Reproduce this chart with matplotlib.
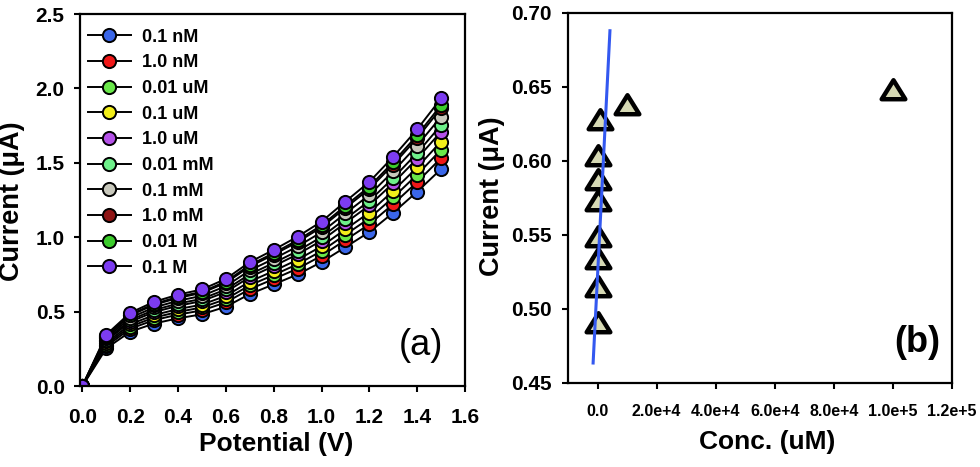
import matplotlib
matplotlib.use("Agg")
import matplotlib.pyplot as plt
from matplotlib.path import Path

plt.rcParams['font.family'] = ['Liberation Sans', 'DejaVu Sans']

# ---------------- Panel (a) data ----------------
potential = [0.0, 0.1, 0.2, 0.3, 0.4, 0.5, 0.6, 0.7, 0.8, 0.9, 1.0, 1.1, 1.2, 1.3, 1.4, 1.5]
labels_a = ['0.1 nM', '1.0 nM', '0.01 uM', '0.1 uM', '1.0 uM',
            '0.01 mM', '0.1 mM', '1.0 mM', '0.01 M', '0.1 M']
colors_a = ['#3a66e8', '#f01818', '#6ae84a', '#f2ee1a', '#b552e8',
            '#6ef08a', '#c8c8bc', '#8e1414', '#3ccc2c', '#7c3cf0']

cur_01nM = [0, 0.253, 0.365, 0.420, 0.455, 0.482, 0.533, 0.618, 0.683, 0.750, 0.833, 0.933, 1.035, 1.165, 1.306, 1.458]
cur_1nM = [0, 0.267, 0.385, 0.443, 0.480, 0.508, 0.562, 0.651, 0.719, 0.789, 0.875, 0.981, 1.087, 1.223, 1.371, 1.532]
cur_001uM = [0, 0.278, 0.400, 0.460, 0.498, 0.528, 0.584, 0.677, 0.746, 0.819, 0.907, 1.017, 1.127, 1.268, 1.420, 1.588]
cur_01uM = [0, 0.289, 0.415, 0.477, 0.517, 0.547, 0.606, 0.702, 0.773, 0.849, 0.939, 1.053, 1.166, 1.312, 1.469, 1.643]
cur_1uM = [0, 0.302, 0.432, 0.497, 0.539, 0.571, 0.632, 0.732, 0.806, 0.885, 0.977, 1.096, 1.214, 1.364, 1.528, 1.710]
cur_001mM = [0, 0.310, 0.444, 0.511, 0.554, 0.586, 0.649, 0.751, 0.827, 0.907, 1.002, 1.123, 1.244, 1.398, 1.566, 1.753]
cur_01mM = [0, 0.321, 0.459, 0.528, 0.573, 0.606, 0.671, 0.777, 0.855, 0.938, 1.034, 1.160, 1.284, 1.443, 1.616, 1.810]
cur_1mM = [0, 0.332, 0.474, 0.546, 0.592, 0.626, 0.694, 0.803, 0.883, 0.968, 1.067, 1.197, 1.325, 1.488, 1.666, 1.867]
cur_001M = [0, 0.336, 0.480, 0.552, 0.599, 0.633, 0.702, 0.813, 0.893, 0.980, 1.079, 1.211, 1.340, 1.505, 1.685, 1.888]
cur_01M = [0, 0.345, 0.492, 0.566, 0.614, 0.649, 0.720, 0.833, 0.915, 1.004, 1.105, 1.240, 1.372, 1.541, 1.725, 1.933]
series_a = [cur_01nM, cur_1nM, cur_001uM, cur_01uM, cur_1uM,
            cur_001mM, cur_01mM, cur_1mM, cur_001M, cur_01M]

# ---------------- Panel (b) data ----------------
conc_uM = [1e-4, 1e-3, 1e-2, 1e-1, 1.0, 10.0, 100.0, 1000.0, 1e4, 1e5]
peak_current = [0.4905, 0.515, 0.534, 0.5485, 0.573, 0.587, 0.6035, 0.628, 0.638, 0.648]
fit_x = [-1500, 4200]
fit_y = [0.4635, 0.688]
xticks_b = [0, 2e4, 4e4, 6e4, 8e4, 1e5, 1.2e5]
xticklabels_b = ['0.0', '2.0e+4', '4.0e+4', '6.0e+4', '8.0e+4', '1.0e+5', '1.2e+5']
yticks_b = [0.45, 0.50, 0.55, 0.60, 0.65, 0.70]

fig = plt.figure(figsize=(9.8, 4.67), dpi=100)
ax1 = fig.add_axes([0.0816, 0.1734, 0.3929, 0.7966])
ax2 = fig.add_axes([0.5796, 0.1799, 0.3918, 0.7923])

for ax in (ax1, ax2):
    for s in ax.spines.values():
        s.set_linewidth(1.6)
    ax.tick_params(direction='out', length=4, width=1.5)

# Panel (a)
for ys, c, lab in zip(series_a, colors_a, labels_a):
    ax1.plot(potential, ys, '-', color='black', lw=1.4, marker='o', ms=9.5,
             markerfacecolor=c, markeredgecolor='black', markeredgewidth=1.4,
             label=lab)
ax1.set_xlim(-0.01, 1.6)
ax1.set_ylim(0, 2.5)
ax1.set_xticks([0.0, 0.2, 0.4, 0.6, 0.8, 1.0, 1.2, 1.4, 1.6])
ax1.set_yticks([0.0, 0.5, 1.0, 1.5, 2.0, 2.5])
ax1.set_xticklabels(['%.1f' % v for v in ax1.get_xticks()], fontsize=15, fontweight='bold')
ax1.set_yticklabels(['%.1f' % v for v in ax1.get_yticks()], fontsize=15, fontweight='bold')
ax1.tick_params(axis='x', pad=12)
ax1.tick_params(axis='y', pad=7)
ax1.set_xlabel('Potential (V)', fontsize=19, fontweight='bold')
ax1.set_ylabel('Current (\u03bcA)', fontsize=19.5, fontweight='bold')
ax1.xaxis.set_label_coords(0.51, -0.124)
ax1.yaxis.set_label_coords(-0.143, 0.497)
leg = ax1.legend(loc='upper left', frameon=False, fontsize=13,
                 handlelength=2.4, handletextpad=0.6, labelspacing=0.48,
                 borderaxespad=0.2, bbox_to_anchor=(-0.008, 0.99))
for t in leg.get_texts():
    t.set_fontweight('bold')
ax1.text(0.885, 0.11, '(a)', transform=ax1.transAxes, fontsize=26,
         ha='center', va='center')

# Panel (b)
tri = Path([(0, 1.0), (-1.15, -0.85), (1.15, -0.85), (0, 1.0)],
           [Path.MOVETO, Path.LINETO, Path.LINETO, Path.CLOSEPOLY])
ax2.plot(fit_x, fit_y, '-', color='#3358f0', lw=2.2, zorder=3)
ax2.plot(conc_uM, peak_current, linestyle='none', marker=tri, ms=17,
         markerfacecolor='#d6d9b4', markeredgecolor='black', markeredgewidth=3.2,
         zorder=2)
ax2.set_xlim(-1e4, 1.2e5)
ax2.set_ylim(0.45, 0.70)
ax2.set_xticks(xticks_b)
ax2.set_xticklabels(xticklabels_b, fontsize=11.5, fontweight='bold')
ax2.set_yticks(yticks_b)
ax2.set_yticklabels(['%.2f' % v for v in yticks_b], fontsize=15, fontweight='bold')
ax2.tick_params(axis='x', pad=11)
ax2.tick_params(axis='y', pad=8)
ax2.set_xlabel('Conc. (uM)', fontsize=19, fontweight='bold')
ax2.set_ylabel('Current (\u03bcA)', fontsize=19.5, fontweight='bold')
ax2.xaxis.set_label_coords(0.52, -0.127)
ax2.yaxis.set_label_coords(-0.164, 0.504)
ax2.text(0.91, 0.11, '(b)', transform=ax2.transAxes, fontsize=26,
         fontweight='bold', ha='center', va='center')

fig.savefig('out.png', dpi=100)
